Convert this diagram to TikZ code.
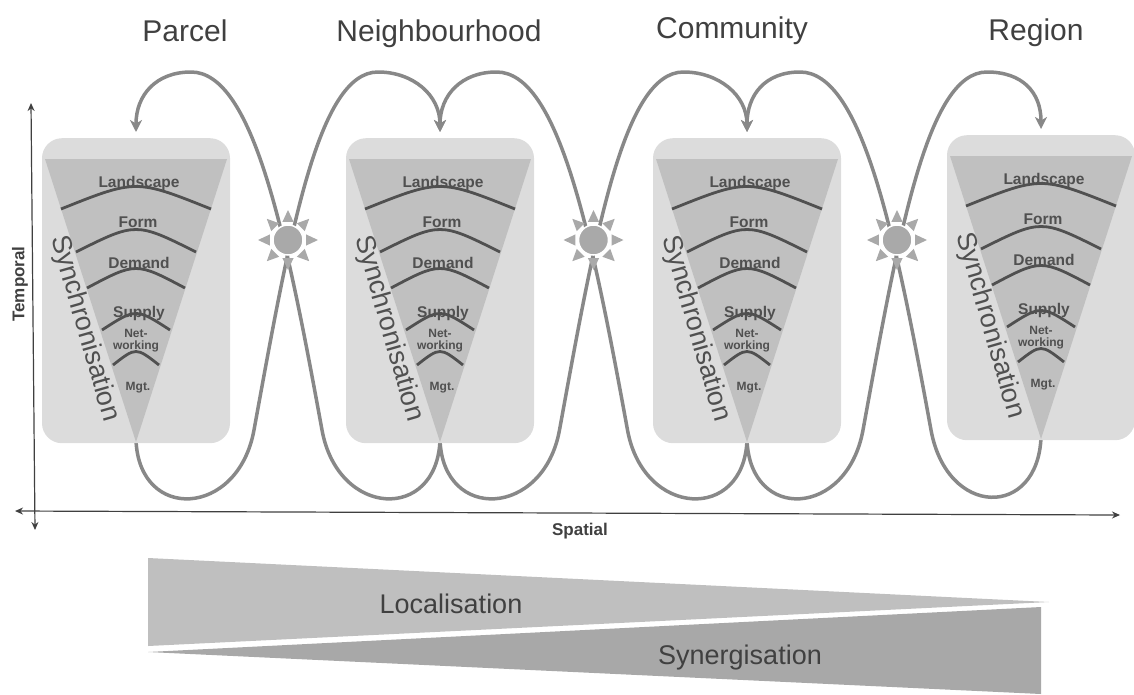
\documentclass[tikz,border=0pt]{standalone}
\usepackage{fontspec}
\setmainfont{Liberation Sans}
\usetikzlibrary{arrows.meta,calc}
\pgfdeclarelayer{background}
\pgfsetlayers{background,main}

\definecolor{panelgray}{HTML}{DCDCDC}
\definecolor{conegray}{HTML}{C0C0C0}
\definecolor{inkgray}{HTML}{505050}
\definecolor{flowgray}{HTML}{888888}
\definecolor{sungray}{HTML}{A9A9A9}
\definecolor{axisgray}{HTML}{404040}
\definecolor{titlegray}{HTML}{404040}
\definecolor{locgray}{HTML}{BFBFBF}
\definecolor{syngray}{HTML}{A8A8A8}

\newcommand\pxfont[1]{\fontsize{#1}{#1}\selectfont}

\tikzset{
  panel/.style={fill=panelgray, rounded corners=20pt, minimum width=188pt,
    minimum height=305pt, inner sep=0pt, anchor=north},
  cone/.style={fill=conegray},
  band/.style={draw=inkgray, line width=2.8pt},
  bandlabel/.style={text=inkgray, font=\bfseries\pxfont{15.5}, inner sep=0pt},
  smalllabel/.style={text=inkgray, font=\bfseries\pxfont{12}, inner sep=0pt, align=center},
  synclabel/.style={text=inkgray, font=\pxfont{27}, rotate=-74, inner sep=0pt},
  flow/.style={draw=flowgray, line width=3.5pt,
    -{Stealth[length=12pt,width=12pt,inset=3.5pt]}},
  sunball/.style={circle, fill=sungray, draw=white, line width=1.5pt,
    minimum size=30pt, inner sep=0pt},
  sunray/.style={fill=sungray},
  axis/.style={draw=axisgray, line width=1.2pt,
    {Stealth[length=8pt,width=7pt]}-{Stealth[length=8pt,width=7pt]}},
  scalelabel/.style={text=titlegray, font=\pxfont{30}, anchor=base, inner sep=0pt},
  axislabel/.style={text=titlegray, font=\bfseries\pxfont{17}, inner sep=0pt},
  wedgelabel/.style={text=titlegray, font=\pxfont{27}, anchor=base, inner sep=0pt},
}

\begin{document}
\begin{tikzpicture}[x=1pt,y=-1pt]
\useasboundingbox (0,0) rectangle (1134,694);

% scale labels
\node[scalelabel] (parcel) at (185,41) {Parcel};
\node[scalelabel] (neigh) at (439,41) {Neighbourhood};
\node[scalelabel] (comm) at (732,38) {Community};
\node[scalelabel] (region) at (1036,40) {Region};

% the four panels with their layered cones
\foreach \i/\cx/\ty in {1/136/138,2/440/138,3/747/138,4/1041/135}{
  \begin{scope}[shift={(\cx,\ty)}]
    \node[panel] (p\i) at (0,0) {};
    \fill[cone] (-91,21) -- (91,21) -- (0,304) -- cycle;
    \coordinate (a\i) at (0,302);
    \coordinate (t\i) at (0,-6);
    \draw[band] (-75,71) .. controls (0,41) .. (75,71);
    \draw[band] (-60,114) .. controls (0,84) .. (60,114);
    \draw[band] (-49,150) .. controls (0,124) .. (49,150);
    \draw[band] (-34,192) .. controls (0,170) .. (34,192);
    \draw[band] (-23,227) .. controls (0,209) .. (23,227);
    \node[bandlabel] (land\i) at (3,45) {Landscape};
    \node[bandlabel] (form\i) at (2,84) {Form};
    \node[bandlabel] (dem\i) at (3,125) {Demand};
    \node[bandlabel] (sup\i) at (3,175) {Supply};
    \node[smalllabel] (net\i) at (0,203) {Net-\\working};
    \node[smalllabel] (mgt\i) at (2,250) {Mgt.};
    \node[synclabel] (sync\i) at (-51.5,190.5) {Synchronisation};
  \end{scope}
}

% feedback loops between neighbouring scales (\m = crossing point)
\begin{pgfonlayer}{background}
\foreach \i/\j/\m in {1/2/288,2/3/593.5,3/4/897}{
  \draw[flow] (a\i) .. controls +(3,82) and (\m-50,518) .. (\m-34,430)
    .. controls (\m+2,233) and (\m+30,72) .. (\m+90,72)
    .. controls (\m+125,72) and ($(t\j)+(0,-37)$) .. (t\j);
  \draw[flow] (a\j) .. controls +(-3,82) and (\m+50,518) .. (\m+34,430)
    .. controls (\m-2,233) and (\m-35,72) .. (\m-97,72)
    .. controls (\m-132,72) and ($(t\i)+(0,-37)$) .. (t\i);
}
\end{pgfonlayer}

% exchange points where the loops cross
\foreach \k/\sx in {1/288,2/593.5,3/897}{
  \node[sunball] (s\k) at (\sx,240) {};
  \foreach \a in {0,45,...,315}
    \fill[sunray] ($(s\k.center)+(\a:30)$) -- ($(s\k.center)+(\a+17:19)$)
      -- ($(s\k.center)+(\a-17:19)$) -- cycle;
}

% axes
\coordinate (vtop) at (31,103);
\coordinate (vbot) at (35,530);
\coordinate (hleft) at (15,511);
\coordinate (hright) at (1120,515);
\draw[axis] (vbot) -- (vtop);
\draw[axis] (hleft) -- (hright);
\node[axislabel, rotate=90] (temporal) at (20,284) {Temporal};
\node[axislabel] (spatial) at (580,531) {Spatial};

% opposing wedges
\fill[locgray] (148,558) -- (1049,602) -- (148,646) -- cycle;
\fill[syngray] (148,652) -- (1041,607) -- (1041,694) -- cycle;
\node[wedgelabel] (loc) at (451,613) {Localisation};
\node[wedgelabel] (syn) at (740,664) {Synergisation};
\end{tikzpicture}
\end{document}
